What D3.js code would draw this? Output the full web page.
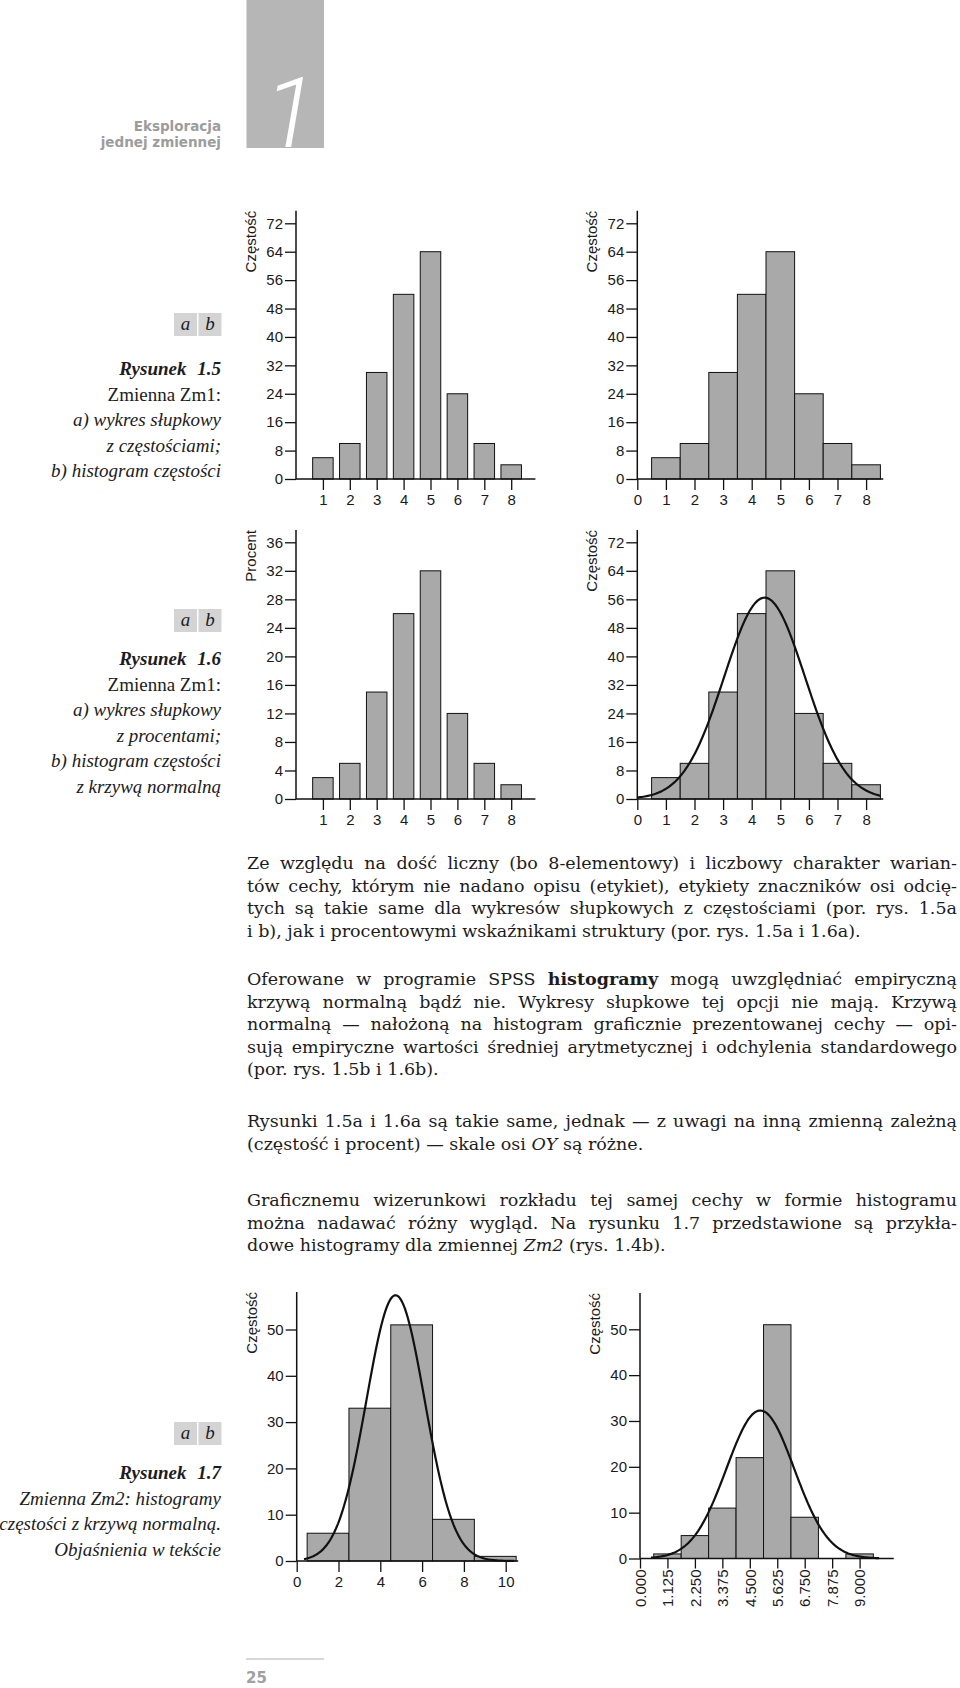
<!DOCTYPE html>
<html lang="pl">
<head>
<meta charset="utf-8">
<title>Eksploracja jednej zmiennej</title>
<script src="https://cdn.jsdelivr.net/npm/d3@7"></script>
<style>
  html, body { margin: 0; padding: 0; background: #fff; }
  svg { display: block; }
  .axis line { stroke: #111; stroke-width: 1.3; }
  .tick text, .axis-label { font-family: "Liberation Sans", Arial, sans-serif; font-size: 15px; fill: #1a1a1a; }
  .bar { fill: #a9a9a9; stroke: #111; stroke-width: 1; }
  .curve { fill: none; stroke: #111; stroke-width: 2.2; }
  .body-text { font-family: "DejaVu Serif", serif; font-size: 17.5px; fill: #1c1c1c; }
  .caption { font-family: "Liberation Serif", serif; font-size: 19px; fill: #1c1c1c; }
</style>
</head>
<body>
<svg id="page" width="960" height="1688"></svg>
<script>
// Zm1: categories 1..8
const zm1Categories = [1, 2, 3, 4, 5, 6, 7, 8];
const zm1Counts = [6, 10, 30, 52, 64, 24, 10, 4];
const zm1Percents = [3, 5, 15, 26, 32, 12, 5, 2];
const zm1HistTicks = [0, 1, 2, 3, 4, 5, 6, 7, 8];
const countTicks72 = [0, 8, 16, 24, 32, 40, 48, 56, 64, 72];
const percentTicks = [0, 4, 8, 12, 16, 20, 24, 28, 32, 36];
// fitted normal curve: mean, sd, n, bin width
const zm1Normal = [4.45, 1.413, 200, 1];

// Zm2, histogram a (bin width 2)
const zm2aCenters = [1.5, 3.5, 5.5, 7.5, 9.5];
const zm2aCounts = [6, 33, 51, 9, 1];
const zm2aTicks = [0, 2, 4, 6, 8, 10];
const zm2aNormal = [4.73, 1.39, 100, 2];

// Zm2, histogram b (bin width 1.125)
const zm2bCenters = [1.125, 2.25, 3.375, 4.5, 5.625, 6.75, 7.875, 9.0];
const zm2bCounts = [1, 5, 11, 22, 51, 9, 0, 1];
const zm2bTicks = [0, 1.125, 2.25, 3.375, 4.5, 5.625, 6.75, 7.875, 9.0];
const zm2bTickLabels = ["0.000", "1.125", "2.250", "3.375", "4.500", "5.625", "6.750", "7.875", "9.000"];
const zm2bNormal = [4.93, 1.39, 100, 1.125];
const countTicks50 = [0, 10, 20, 30, 40, 50];

const svg = d3.select("#page");
svg.append("rect").attr("width", 960).attr("height", 1688).attr("fill", "#fff");

// header
svg.append("rect").attr("x", 246.5).attr("y", 0).attr("width", 77.5).attr("height", 148).attr("fill", "#b6b6b6");
svg.append("text")
  .attr("x", 290).attr("y", 147).attr("text-anchor", "middle")
  .attr("font-family", "Roboto, 'Open Sans', sans-serif").attr("font-weight", 300).attr("font-style", "italic")
  .attr("font-size", 98).attr("fill", "#fff").text("1");
[["Eksploracja", 131], ["jednej zmiennej", 147]].forEach(([t, y]) => {
  svg.append("text").attr("x", 221).attr("y", y).attr("text-anchor", "end")
    .attr("font-family", "'DejaVu Sans', sans-serif").attr("font-weight", "bold")
    .attr("font-size", 13.5).attr("fill", "#9c9c9c").text(t);
});

// footer
svg.append("line").attr("x1", 246).attr("x2", 324).attr("y1", 1659).attr("y2", 1659)
  .attr("stroke", "#b0b0b0").attr("stroke-width", 1);
svg.append("text").attr("x", 246).attr("y", 1683)
  .attr("font-family", "'DejaVu Sans', sans-serif").attr("font-weight", "bold")
  .attr("font-size", 15).attr("fill", "#a0a0a0").text("25");

function makeChart(cfg) {
  const g = svg.append("g");
  const x = d3.scaleLinear().domain([0, cfg.xMax]).range([cfg.left, cfg.left + cfg.xMax * cfg.xUnit]);
  const y = d3.scaleLinear().domain([0, cfg.yRefValue]).range([cfg.zero, cfg.yRefPx]);
  return { g, x, y, cfg };
}

function drawAxes(c, yTicks, xTicks, xLabels, yLabel, rotateX) {
  const { g, x, y, cfg } = c;
  const gy = g.append("g").attr("class", "axis")
    .attr("transform", `translate(${cfg.left},0)`)
    .call(d3.axisLeft(y).tickValues(yTicks).tickSize(11).tickPadding(2).tickSizeOuter(0));
  gy.select(".domain").remove();
  gy.append("line").attr("x1", 0).attr("x2", 0).attr("y1", y(0)).attr("y2", cfg.top).style("stroke-width", 1.5);

  const gx = g.append("g").attr("class", "axis")
    .attr("transform", `translate(0,${y(0)})`)
    .call(d3.axisBottom(x).tickValues(xTicks)
      .tickFormat((d, i) => (xLabels ? xLabels[i] : d))
      .tickSize(rotateX ? 10 : 11).tickPadding(4).tickSizeOuter(0));
  gx.select(".domain").remove();
  gx.append("line").attr("x1", cfg.left).attr("x2", x(cfg.xMax)).attr("y1", 0).attr("y2", 0).style("stroke-width", 1.5);
  if (rotateX) {
    gx.selectAll(".tick text")
      .attr("transform", "rotate(-90)")
      .attr("text-anchor", "end")
      .attr("x", -11).attr("y", 0).attr("dy", "0.35em");
  }

  g.append("text").attr("class", "axis-label")
    .attr("transform", `translate(${cfg.left - 40},${cfg.top}) rotate(-90)`)
    .attr("text-anchor", "end").text(yLabel);
}

function drawBars(c, cats, vals, width) {
  const { g, x, y } = c;
  g.append("g").selectAll("rect").data(d3.zip(cats, vals)).join("rect")
    .attr("class", "bar")
    .attr("x", (d) => x(d[0]) - width / 2)
    .attr("width", width)
    .attr("y", (d) => y(d[1]))
    .attr("height", (d) => y(0) - y(d[1]));
}

function drawHist(c, centers, vals, binWidth) {
  const { g, x, y } = c;
  g.append("g").selectAll("rect").data(d3.zip(centers, vals).filter((d) => d[1] > 0)).join("rect")
    .attr("class", "bar")
    .attr("x", (d) => x(d[0] - binWidth / 2))
    .attr("width", (d) => x(d[0] + binWidth / 2) - x(d[0] - binWidth / 2))
    .attr("y", (d) => y(d[1]))
    .attr("height", (d) => y(0) - y(d[1]));
}

function drawNormal(c, params, lo, hi) {
  const { g, x, y } = c;
  const [mean, sd, n, w] = params;
  const peak = (n * w) / (sd * Math.sqrt(2 * Math.PI));
  const pts = d3.range(0, 161).map((i) => {
    const v = lo + ((hi - lo) * i) / 160;
    return [v, peak * Math.exp(-0.5 * ((v - mean) / sd) ** 2)];
  });
  g.append("path").attr("class", "curve")
    .attr("d", d3.line().x((d) => x(d[0])).y((d) => y(d[1]))(pts));
}

// Rysunek 1.5 a
const c15a = makeChart({ left: 296, xUnit: 26.9, xMax: 8.9, zero: 479, yRefValue: 72, yRefPx: 223.3, top: 210.7 });
drawBars(c15a, zm1Categories, zm1Counts, 20.5);
drawAxes(c15a, countTicks72, zm1Categories, null, "Częstość");

// Rysunek 1.5 b
const c15b = makeChart({ left: 637.3, xUnit: 28.6, xMax: 8.6, zero: 479, yRefValue: 72, yRefPx: 223.3, top: 210.7 });
drawHist(c15b, zm1Categories, zm1Counts, 1);
drawAxes(c15b, countTicks72, zm1HistTicks, null, "Częstość");

// Rysunek 1.6 a
const c16a = makeChart({ left: 296, xUnit: 26.9, xMax: 8.9, zero: 799, yRefValue: 36, yRefPx: 542.3, top: 530 });
drawBars(c16a, zm1Categories, zm1Percents, 20.5);
drawAxes(c16a, percentTicks, zm1Categories, null, "Procent");

// Rysunek 1.6 b
const c16b = makeChart({ left: 637.3, xUnit: 28.6, xMax: 8.6, zero: 799, yRefValue: 72, yRefPx: 542.3, top: 530 });
drawHist(c16b, zm1Categories, zm1Counts, 1);
drawNormal(c16b, zm1Normal, 0, 8.5);
drawAxes(c16b, countTicks72, zm1HistTicks, null, "Częstość");

// Rysunek 1.7 a
const c17a = makeChart({ left: 296.7, xUnit: 20.9, xMax: 10.6, zero: 1561, yRefValue: 50, yRefPx: 1329.5, top: 1292 });
drawHist(c17a, zm2aCenters, zm2aCounts, 2);
drawNormal(c17a, zm2aNormal, 0.35, 10.4);
drawAxes(c17a, countTicks50, zm2aTicks, null, "Częstość");

// Rysunek 1.7 b
const c17b = makeChart({ left: 640, xUnit: 24.4, xMax: 10.4, zero: 1558.5, yRefValue: 50, yRefPx: 1329.3, top: 1293 });
drawHist(c17b, zm2bCenters, zm2bCounts, 1.125);
drawNormal(c17b, zm2bNormal, 0.45, 9.8);
drawAxes(c17b, countTicks50, zm2bTicks, zm2bTickLabels, "Częstość", true);

// captions on the left
function abBoxes(top) {
  ["a", "b"].forEach((t, i) => {
    const bx = 174 + i * 24.5;
    svg.append("rect").attr("x", bx).attr("y", top).attr("width", 23).attr("height", 23).attr("fill", "#d4d4d4");
    svg.append("text").attr("class", "caption").attr("x", bx + 11.5).attr("y", top + 17)
      .attr("text-anchor", "middle").attr("font-style", "italic").attr("font-size", 18).text(t);
  });
}

function caption(lines, firstBaseline) {
  lines.forEach(([t, style], i) => {
    const el = svg.append("text").attr("class", "caption")
      .attr("x", 221).attr("y", firstBaseline + i * 25.5).attr("text-anchor", "end").text(t);
    if (style === "title") el.attr("font-weight", "bold").attr("font-style", "italic").attr("font-size", 20).attr("word-spacing", 6);
    else if (style === "i") el.attr("font-style", "italic");
  });
}

abBoxes(313);
caption([["Rysunek 1.5", "title"], ["Zmienna Zm1:", "r"], ["a) wykres słupkowy", "i"],
  ["z częstościami;", "i"], ["b) histogram częstości", "i"]], 375);

abBoxes(609);
caption([["Rysunek 1.6", "title"], ["Zmienna Zm1:", "r"], ["a) wykres słupkowy", "i"],
  ["z procentami;", "i"], ["b) histogram częstości", "i"], ["z krzywą normalną", "i"]], 665);

abBoxes(1422);
caption([["Rysunek 1.7", "title"], ["Zmienna Zm2: histogramy", "i"],
  ["częstości z krzywą normalną.", "i"], ["Objaśnienia w tekście", "i"]], 1479);

// body text
const textLeft = 247;
const textWidth = 710;
const lineStep = 22.5;

const paragraphs = [
  {
    top: 869,
    lines: [
      [["Ze względu na dość liczny (bo 8-elementowy) i liczbowy charakter warian-"]],
      [["tów cechy, którym nie nadano opisu (etykiet), etykiety znaczników osi odcię-"]],
      [["tych są takie same dla wykresów słupkowych z częstościami (por. rys. 1.5a"]],
      [["i b), jak i procentowymi wskaźnikami struktury (por. rys. 1.5a i 1.6a)."]],
    ],
  },
  {
    top: 985,
    lines: [
      [["Oferowane w programie SPSS "], ["histogramy", "b"], [" mogą uwzględniać empiryczną"]],
      [["krzywą normalną bądź nie. Wykresy słupkowe tej opcji nie mają. Krzywą"]],
      [["normalną — nałożoną na histogram graficznie prezentowanej cechy — opi-"]],
      [["sują empiryczne wartości średniej arytmetycznej i odchylenia standardowego"]],
      [["(por. rys. 1.5b i 1.6b)."]],
    ],
  },
  {
    top: 1127,
    lines: [
      [["Rysunki 1.5a i 1.6a są takie same, jednak — z uwagi na inną zmienną zależną"]],
      [["(częstość i procent) — skale osi "], ["OY", "i"], [" są różne."]],
    ],
  },
  {
    top: 1206,
    lines: [
      [["Graficznemu wizerunkowi rozkładu tej samej cechy w formie histogramu"]],
      [["można nadawać różny wygląd. Na rysunku 1.7 przedstawione są przykła-"]],
      [["dowe histogramy dla zmiennej "], ["Zm2", "i"], [" (rys. 1.4b)."]],
    ],
  },
];

paragraphs.forEach((p) => {
  p.lines.forEach((parts, i) => {
    const t = svg.append("text").attr("class", "body-text")
      .attr("x", textLeft).attr("y", p.top + i * lineStep);
    parts.forEach(([s, st]) => {
      const ts = t.append("tspan").text(s);
      if (st === "b") ts.attr("font-weight", "bold");
      if (st === "i") ts.attr("font-style", "italic");
    });
    const last = i === p.lines.length - 1;
    const full = parts.map((d) => d[0]).join("");
    const spaces = full.split(" ").length - 1;
    const w = t.node().getComputedTextLength();
    if ((!last || w > textWidth) && spaces > 0) {
      t.attr("word-spacing", (textWidth - w) / spaces);
    }
  });
});
</script>
</body>
</html>
